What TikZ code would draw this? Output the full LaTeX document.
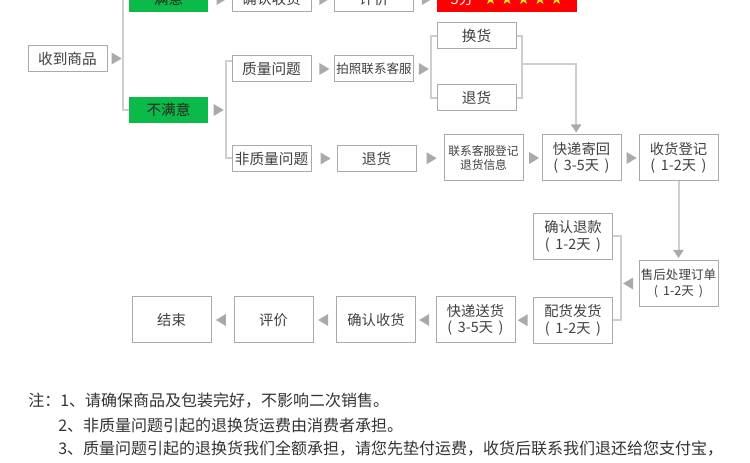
\documentclass[tikz,border=0pt]{standalone}
\usepackage{fontspec}
\setmainfont{Noto Sans CJK SC}
\newfontfamily\starfont{DejaVu Sans}
\usetikzlibrary{arrows.meta,shapes.geometric}
\definecolor{boxgray}{RGB}{170,170,170}
\definecolor{linegray}{RGB}{206,206,206}
\definecolor{arrowgray}{RGB}{170,170,170}
\definecolor{txtgray}{RGB}{64,64,64}
\definecolor{notegray}{RGB}{51,51,51}
\definecolor{okgreen}{RGB}{11,186,72}
\definecolor{scorered}{RGB}{255,0,0}
\definecolor{staryellow}{RGB}{255,245,0}
\newcommand\days[1]{(\hspace{0.4em}#1天\hspace{0.4em})}

\begin{document}
\begin{tikzpicture}[x=0.75pt,y=-0.75pt,
  every node/.style={text=txtgray,font=\fontsize{11}{13}\selectfont},
  box/.style={draw=boxgray,line width=0.75pt,minimum width=59.25pt,minimum height=19.5pt,inner sep=0pt},
  tallbox/.style={box,minimum height=34.5pt,align=center,font=\fontsize{10.7}{12.5}\selectfont},
  greenbox/.style={box,draw=none,fill=okgreen,text=black!85},
  link/.style={draw=linegray,line width=1.5pt},
  tri/.style={isosceles triangle,isosceles triangle stretches,fill=arrowgray,inner sep=0pt,
    minimum width=9pt,minimum height=7.5pt},
  tril/.style={tri,shape border rotate=180},
  tip/.style={-{Triangle[length=6pt,width=7.5pt,color=arrowgray]}},
  note/.style={anchor=west,inner sep=0pt,text=notegray,font=\fontsize{12}{14}\selectfont}]
  \useasboundingbox (0,0) rectangle (750,463);
  \fill[white] (0,0) rectangle (750,463);
  \clip (0,0) rectangle (750,463);
  % top row, cut off by the frame
  \node[greenbox] (ok) at (168.5,-1) {满意};
  \node[box] (conf1) at (271.5,-1) {确认收货};
  \node[box] (rate1) at (374,-1) {评价};
  \node[box,draw=none,fill=scorered,minimum width=105pt] (five) at (507,-1)
    {{\color{white}5分}\hspace{8pt}{\starfont\fontsize{11}{12}\selectfont\color{staryellow}★\hspace{2.5pt}★\hspace{2.5pt}★\hspace{2.5pt}★\hspace{2.5pt}★}};
  % main flow
  \node[box] (got) at (67.5,58.5) {收到商品};
  \node[greenbox] (bad) at (168.5,110) {不满意};
  \node[box] (qual) at (271.5,69) {质量问题};
  \node[box] (nonq) at (271.5,158.5) {非质量问题};
  \node[box,font=\fontsize{9.4}{11}\selectfont] (photo) at (374,69) {拍照联系客服};
  \node[box] (swap) at (476.5,36) {换货};
  \node[box] (ret1) at (476.5,98) {退货};
  \node[box] (ret2) at (376.5,158.5) {退货};
  \node[tallbox,font=\fontsize{8.8}{10.5}\selectfont] (info) at (483.5,158) {联系客服登记\\退货信息};
  \node[tallbox] (back) at (581.5,158) {快递寄回\\\days{3-5}};
  \node[tallbox] (reg) at (678.5,158) {收货登记\\\days{1-2}};
  \node[tallbox,font=\fontsize{9.4}{12.5}\selectfont] (after) at (678.5,283.5) {售后处理订单\\\days{1-2}};
  \node[tallbox] (refund) at (573,236.5) {确认退款\\\days{1-2}};
  \node[tallbox] (ship) at (573,320.5) {配货发货\\\days{1-2}};
  \node[tallbox] (send) at (475.5,320) {快递送货\\\days{3-5}};
  \node[tallbox] (conf2) at (376,320) {确认收货};
  \node[tallbox] (rate2) at (273.5,320) {评价};
  \node[tallbox] (done) at (171.5,320) {结束};
  % brackets and arrows
  \draw[link] (ok.west) -- ++(-6,0) coordinate (b1) |- (bad.west);
  \draw[link] ([yshift=6pt]qual.west) -- ++(-6,0) coordinate (b2) |- (nonq.west);
  \draw[link] (swap.west) -- ++(-6,0) coordinate (b3) |- (ret1.west);
  \draw[link] (swap.east) -- ++(5,0) coordinate (b4) |- (ret1.east);
  \draw[link,tip] (b4 |- 0,64) -| ([xshift=-4pt,yshift=1.5pt]back.north);
  \draw[link,tip] (reg.south) -- ([yshift=1.5pt]after.north);
  \draw[link] (refund.east) -- ++(8,0) coordinate (b5) |- (ship.east);
  % triangles between the steps
  \path (got.east) -- (got.east -| b1) node[midway,tri] (t1) {};
  \path (ok.east) -- (conf1.west) node[midway,tri] (t2) {};
  \path (conf1.east) -- (rate1.west) node[midway,tri] (t3) {};
  \path (rate1.east) -- (five.west) node[midway,tri] (t4) {};
  \path (bad.east) -- (bad.east -| b2) node[midway,tri] (t5) {};
  \path (qual.east) -- (photo.west) node[midway,tri] (t6) {};
  \path (photo.east) -- (photo.east -| b3) node[midway,tri] (t7) {};
  \path (nonq.east) -- (ret2.west) node[midway,tri] (t8) {};
  \path (ret2.east) -- (info.west) node[midway,tri] (t9) {};
  \path (info.east) -- (back.west) node[midway,tri] (t10) {};
  \path (back.east) -- (reg.west) node[midway,tri] (t11) {};
  \path (after.west) -- (after.west -| b5) node[midway,tril] (t12) {};
  \path (ship.west) -- (send.east) node[midway,tril] (t13) {};
  \path (send.west) -- (conf2.east) node[midway,tril] (t14) {};
  \path (conf2.west) -- (rate2.east) node[midway,tril] (t15) {};
  \path (rate2.west) -- (done.east) node[midway,tril] (t16) {};
  % notes
  \node[note] (n1) at (28,401) {注：1、请确保商品及包装完好，不影响二次销售。};
  \node[note] (n2) at (58,425) {2、非质量问题引起的退换货运费由消费者承担。};
  \node[note] (n3) at (58,449) {3、质量问题引起的退换货我们全额承担，请您先垫付运费，收货后联系我们退还给您支付宝，};
\end{tikzpicture}
\end{document}
